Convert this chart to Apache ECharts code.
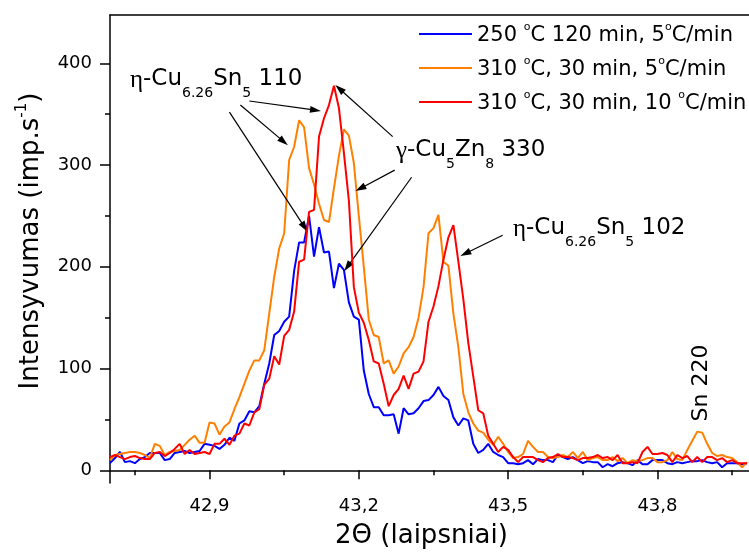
<!DOCTYPE html>
<html>
<head>
<meta charset="utf-8">
<script src="https://cdn.jsdelivr.net/npm/echarts@6/dist/echarts.min.js"></script>
<style>
  html, body { margin: 0; padding: 0; background: #fff; }
  #chart { width: 749px; height: 554px; }
</style>
</head>
<body>
<div id="chart"></div>
<script>
// Diffraction scan grid (2Θ, degrees): first angle and step of the scan
const scanStart = 42.70;
const scanStep = 0.01;

// Intensity, imp/s — one value per scan step
const run250_120min_5 = [
  7, 12, 18, 8, 9, 7, 11, 13, 17, 17,
  17, 10, 11, 17, 18, 19, 17, 18, 19, 26,
  25, 24, 21, 25, 32, 29, 46, 49, 58, 57,
  63, 85, 105, 133, 137, 146, 151, 196, 224, 224,
  250, 210, 239, 214, 215, 179, 203, 197, 165, 151,
  148, 98, 75, 62, 62, 54, 54, 55, 36, 61,
  55, 56, 61, 68, 69, 74, 82, 73, 69, 52,
  44, 51, 49, 26, 17, 20, 26, 18, 15, 13,
  7, 7, 6, 7, 10, 6, 11, 10, 10, 8,
  15, 13, 11, 13, 10, 7, 9, 8, 8, 3,
  6, 4, 7, 8, 7, 5, 10, 6, 6, 10,
  10, 10, 7, 6, 8, 7, 8, 9, 9, 10,
  8, 7, 8, 3, 7, 7, 7, 6, 7
];
const run310_30min_5 = [
  10, 15, 16, 17, 18, 18, 17, 15, 12, 26,
  24, 15, 18, 19, 20, 25, 30, 34, 27, 27,
  47, 46, 35, 43, 47, 60, 72, 85, 98, 108,
  108, 118, 154, 190, 218, 233, 305, 318, 344, 337,
  297, 281, 262, 246, 244, 277, 309, 335, 329, 302,
  250, 200, 148, 133, 131, 105, 108, 95, 102, 115,
  121, 131, 150, 180, 233, 238, 251, 205, 201, 154,
  121, 75, 57, 46, 39, 37, 30, 25, 33, 26,
  18, 12, 13, 16, 29, 23, 18, 18, 13, 12,
  13, 15, 13, 18, 12, 18, 10, 12, 13, 10,
  10, 13, 9, 12, 7, 10, 9, 10, 12, 12,
  8, 8, 10, 18, 11, 10, 20, 29, 38, 37,
  26, 17, 14, 15, 13, 12, 8, 3, 8
];
const run310_30min_10 = [
  13, 15, 13, 11, 13, 14, 12, 11, 11, 17,
  18, 14, 17, 21, 26, 16, 20, 16, 17, 18,
  16, 26, 26, 31, 25, 34, 36, 46, 44, 57,
  60, 84, 90, 112, 104, 132, 138, 156, 205, 207,
  254, 256, 328, 346, 359, 378, 356, 312, 265, 180,
  155, 145, 128, 107, 105, 85, 63, 74, 80, 93,
  80, 95, 97, 107, 146, 161, 181, 207, 229, 241,
  205, 168, 125, 92, 59, 56, 34, 26, 18, 23,
  20, 13, 8, 13, 13, 13, 10, 8, 12, 13,
  16, 13, 13, 12, 10, 12, 12, 13, 15, 12,
  13, 10, 15, 7, 7, 8, 7, 18, 23, 16,
  16, 17, 15, 8, 15, 12, 14, 8, 13, 8,
  13, 13, 10, 12, 8, 10, 7, 7, 7
];

const seriesNames = [
  '250 °C 120 min, 5°C/min',
  '310 °C, 30 min, 5°C/min',
  '310 °C, 30 min, 10 °C/min'
];
const legendRich = {
  '250 °C 120 min, 5°C/min': '{m|250 }{o|o}{m|C 120 min, 5}{o|o}{m|C/min}',
  '310 °C, 30 min, 5°C/min': '{m|310 }{o|o}{m|C, 30 min, 5}{o|o}{m|C/min}',
  '310 °C, 30 min, 10 °C/min': '{m|310 }{o|o}{m|C, 30 min, 10 }{o|o}{m|C/min}'
};
const seriesColors = ['#0000ff', '#ff8000', '#ff0000'];

// Axis ticks
const xMajorTicks = [42.9, 43.2, 43.5, 43.8];
const xMinorTicks = [42.75, 43.05, 43.35, 43.65, 43.95];
const yMajorTicks = [0, 100, 200, 300, 400];
const yMinorTicks = [50, 150, 250, 350];

// Peak-assignment pointers: [from, to] in (2Θ, intensity)
const pointers = [
  [[42.980, 363], [43.113, 354]],
  [[42.962, 359], [43.049, 323]],
  [[42.940, 352], [43.091, 239]],
  [[43.268, 328], [43.161, 375]],
  [[43.272, 295], [43.203, 277]],
  [[43.306, 288], [43.177, 200]],
  [[43.489, 231], [43.414, 213]]
];

const FONT = 'DejaVu Sans';
const angles = run250_120min_5.map((_, i) => +(scanStart + i * scanStep).toFixed(2));
const toPairs = vals => vals.map((v, i) => [angles[i], v]);

const xMin = 42.7, xMax = 43.984;
const yMin = -12.5, yMax = 447.5;

const subRich = {
  m: { fontFamily: FONT, fontSize: 23, color: '#000', verticalAlign: 'top' },
  g: { fontFamily: 'Liberation Serif', fontSize: 25, color: '#000', verticalAlign: 'top' },
  s: { fontFamily: FONT, fontSize: 14, color: '#000', verticalAlign: 'top', padding: [18, 0, 0, 0] }
};

const chart = echarts.init(document.getElementById('chart'), null, { renderer: 'canvas' });

const lineSeries = [run250_120min_5, run310_30min_5, run310_30min_10].map((vals, k) => ({
  name: seriesNames[k],
  type: 'line',
  xAxisIndex: 0,
  yAxisIndex: 0,
  data: toPairs(vals),
  symbol: 'none',
  showSymbol: false,
  clip: true,
  lineStyle: { color: seriesColors[k], width: 2 },
  itemStyle: { color: seriesColors[k] },
  z: 3 + k,
  animation: false
}));

lineSeries[2].markLine = {
  silent: true,
  animation: false,
  symbol: ['none', 'triangle'],
  symbolSize: [7, 11],
  lineStyle: { color: '#000', width: 1.2, type: 'solid' },
  label: { show: false },
  emphasis: { disabled: true },
  data: pointers.map(p => [{ coord: p[0] }, { coord: p[1] }])
};

chart.setOption({
  animation: false,
  backgroundColor: '#fff',
  grid: { left: 110, right: 0, top: 15, bottom: 71 },
  legend: {
    orient: 'vertical',
    left: 419,
    top: 22,
    padding: 0,
    icon: 'rect',
    itemWidth: 53,
    itemHeight: 2,
    itemGap: 10,
    selectedMode: false,
    data: seriesNames,
    formatter: name => legendRich[name],
    textStyle: {
      fontFamily: FONT,
      fontSize: 21,
      color: '#000',
      rich: {
        m: { fontFamily: FONT, fontSize: 21, color: '#000', verticalAlign: 'top', padding: [3, 0, 0, 0] },
        o: { fontFamily: FONT, fontSize: 11, color: '#000', verticalAlign: 'top' }
      }
    }
  },
  xAxis: [
    {
      type: 'value', min: xMin, max: xMax, position: 'bottom',
      name: '2Θ (laipsniai)', nameLocation: 'middle', nameGap: 40,
      nameTextStyle: { fontFamily: FONT, fontSize: 26, color: '#000', padding: [0, 16, 0, 0] },
      axisLine: { show: true, lineStyle: { color: '#000', width: 1.5 } },
      axisTick: { show: true, customValues: xMajorTicks, length: 9, lineStyle: { color: '#000', width: 1.5 } },
      axisLabel: {
        customValues: xMajorTicks, margin: 14,
        fontFamily: FONT, fontSize: 18, color: '#000',
        formatter: v => v.toFixed(1).replace('.', ',')
      },
      splitLine: { show: false }
    },
    {
      type: 'value', min: xMin, max: xMax, position: 'bottom',
      axisLine: { show: false },
      axisTick: { show: true, customValues: xMinorTicks, length: 5, lineStyle: { color: '#000', width: 1.5 } },
      axisLabel: { show: false },
      splitLine: { show: false }
    },
    {
      type: 'value', min: xMin, max: xMax, position: 'top',
      axisLine: { show: true, lineStyle: { color: '#000', width: 1.5 } },
      axisTick: { show: false },
      axisLabel: { show: false },
      splitLine: { show: false }
    }
  ],
  yAxis: [
    {
      type: 'value', min: yMin, max: yMax, position: 'left',
      name: '{m|Intensyvumas (imp.s}{p|-1}{m|)}',
      nameLocation: 'middle', nameRotate: 90, nameGap: 66,
      nameTextStyle: {
        fontFamily: FONT, fontSize: 26, color: '#000', padding: [0, 0, 0, 16],
        rich: {
          m: { fontFamily: FONT, fontSize: 26, color: '#000', verticalAlign: 'top', padding: [3, 0, 0, 0] },
          p: { fontFamily: FONT, fontSize: 15, color: '#000', verticalAlign: 'top' }
        }
      },
      axisLine: { show: true, lineStyle: { color: '#000', width: 1.5 } },
      axisTick: { show: true, customValues: yMajorTicks, length: 10, lineStyle: { color: '#000', width: 1.5 } },
      axisLabel: {
        customValues: yMajorTicks, margin: 18,
        fontFamily: FONT, fontSize: 18, color: '#000'
      },
      splitLine: { show: false }
    },
    {
      type: 'value', min: yMin, max: yMax, position: 'left',
      axisLine: { show: false },
      axisTick: { show: true, customValues: yMinorTicks, length: 5, lineStyle: { color: '#000', width: 1.5 } },
      axisLabel: { show: false },
      splitLine: { show: false }
    }
  ],
  graphic: [
    {
      type: 'text', x: 130, y: 68, z: 10,
      style: { text: '{g|η}{m|-Cu}{s|6.26}{m|Sn}{s|5}{m| 110}', rich: subRich, align: 'left', verticalAlign: 'top' }
    },
    {
      type: 'text', x: 396, y: 139, z: 10,
      style: { text: '{g|γ}{m|-Cu}{s|5}{m|Zn}{s|8}{m| 330}', rich: subRich, align: 'left', verticalAlign: 'top' }
    },
    {
      type: 'text', x: 513, y: 217, z: 10,
      style: { text: '{g|η}{m|-Cu}{s|6.26}{m|Sn}{s|5}{m| 102}', rich: subRich, align: 'left', verticalAlign: 'top' }
    },
    {
      type: 'text', x: 701, y: 383, rotation: Math.PI / 2, z: 10,
      style: { text: 'Sn 220', fontFamily: FONT, fontSize: 22, fill: '#000', align: 'center', verticalAlign: 'middle' }
    }
  ],
  series: lineSeries
});
</script>
</body>
</html>
